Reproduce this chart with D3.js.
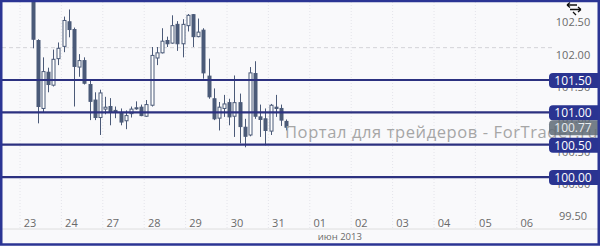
<!DOCTYPE html>
<html>
<head>
<meta charset="utf-8">
<script src="https://cdn.jsdelivr.net/npm/d3@7"></script>
<style>
  html, body { margin: 0; padding: 0; background: #f9f9fb; }
  svg { display: block; }
  text { font-family: "Open Sans", "DejaVu Sans", sans-serif; }
</style>
</head>
<body>
<div id="chart"></div>
<script>
'use strict';

// day labels on the x axis (8 three-hour bars per day)
var days = ['23', '24', '27', '28', '29', '30', '31', '01', '02', '03', '04', '05', '06'];
var monthLabel = 'июн 2013';

var opens  = [102.85, 102.11, 101.06, 101.62, 101.42, 101.83, 102.02, 102.40, 102.28, 101.70,
              101.80, 101.43, 101.19, 100.92, 101.05, 101.09, 101.03, 100.99, 100.87, 100.98,
              101.07, 101.08, 100.94, 101.11, 101.84, 101.92, 102.11, 102.07, 102.36, 102.06,
              102.34, 102.51, 102.17, 102.27, 101.56, 101.21, 100.91, 101.06, 101.15, 100.94,
              101.15, 100.77, 100.65, 101.60, 100.93, 100.90, 100.71, 101.08, 101.06, 100.86];
var highs  = [102.95, 102.13, 101.85, 101.69, 101.97, 102.08, 102.48, 102.59, 102.31, 101.90,
              101.85, 101.49, 101.31, 101.35, 101.24, 101.22, 101.09, 101.06, 101.03, 101.09,
              101.17, 101.12, 101.19, 102.01, 102.01, 102.30, 102.17, 102.50, 102.41, 102.44,
              102.52, 102.52, 102.45, 102.30, 101.83, 101.37, 101.16, 101.27, 101.21, 101.57,
              101.29, 100.90, 101.70, 101.79, 101.12, 101.06, 101.13, 101.27, 101.12, 100.89];
var lows   = [101.99, 100.83, 101.00, 101.31, 101.40, 101.73, 101.93, 102.16, 101.09, 101.55,
              101.43, 100.88, 100.88, 100.65, 100.97, 100.80, 100.91, 100.80, 100.74, 100.92,
              101.04, 100.94, 100.93, 101.09, 101.73, 101.91, 102.01, 102.06, 101.95, 101.85,
              102.25, 102.01, 102.16, 101.52, 101.21, 100.88, 100.72, 100.93, 100.80, 100.62,
              100.52, 100.46, 100.63, 100.90, 100.62, 100.49, 100.65, 100.93, 100.79, 100.72];
var closes = [102.13, 101.09, 101.63, 101.43, 101.82, 101.99, 102.42, 102.28, 101.71, 101.80,
              101.45, 101.17, 100.92, 101.30, 101.08, 101.00, 101.00, 100.85, 100.95, 101.05,
              101.06, 100.95, 101.12, 101.88, 101.92, 102.10, 102.06, 102.34, 102.06, 102.36,
              102.50, 102.17, 102.24, 101.61, 101.24, 100.90, 101.08, 101.13, 100.93, 101.15,
              100.78, 100.63, 101.61, 100.94, 100.89, 100.72, 101.11, 101.06, 100.88, 100.77];

var yTicks = [99.5, 100, 100.5, 101, 101.5, 102, 102.5];
var levels = [101.5, 101, 100.5, 100];
var gridLevels = [102];
var lastPrice = 100.77;
var watermark = 'Портал для трейдеров - ForTrader.ru';

var config = {
  width: 600,
  height: 246,
  barsPerDay: 8,
  plotRight: 552,
  axisY: 229,
  colors: {
    frame: '#2b3594',
    level: '#2c3180',
    badge: '#2a3491',
    candle: '#4b5a78',
    text: '#6a6a6a'
  }
};

var candles = opens.map(function(o, i) {
  return { i: i, open: o, high: highs[i], low: lows[i], close: closes[i] };
});

var svg = d3.select('#chart').append('svg')
  .attr('width', config.width)
  .attr('height', config.height);

// scales: x in bar slots, y in price
var xScale = d3.scaleLinear()
  .domain([0, config.barsPerDay])
  .range([30, 71.4]);
var yScale = d3.scaleLinear()
  .domain([99.5, 102.5])
  .range([209.4, 15.3]);

svg.append('rect')
  .attr('width', config.width)
  .attr('height', config.height)
  .attr('fill', '#f9f9fb');

svg.append('clipPath').attr('id', 'plot-clip')
  .append('rect')
  .attr('x', 2).attr('y', 2)
  .attr('width', config.plotRight - 2)
  .attr('height', config.axisY - 2);

// faint vertical dotted grid
svg.append('g').selectAll('line')
  .data(days)
  .enter().append('line')
  .attr('x1', function(d, i) { return xScale(i * config.barsPerDay) - 10; })
  .attr('x2', function(d, i) { return xScale(i * config.barsPerDay) - 10; })
  .attr('y1', 2)
  .attr('y2', config.axisY)
  .attr('stroke', '#e4e4ea')
  .attr('stroke-dasharray', '1,2');

// dashed horizontal grid
svg.append('g').selectAll('line')
  .data(gridLevels)
  .enter().append('line')
  .attr('x1', 2)
  .attr('x2', config.plotRight)
  .attr('y1', function(d) { return yScale(d); })
  .attr('y2', function(d) { return yScale(d); })
  .attr('stroke', '#d4d4d8')
  .attr('stroke-dasharray', '4,3');

// bottom axis line
svg.append('line')
  .attr('x1', 2).attr('x2', 598)
  .attr('y1', config.axisY).attr('y2', config.axisY)
  .attr('stroke', '#dedede');

// day labels
var xAxis = svg.append('g').attr('class', 'x axis');
xAxis.selectAll('text')
  .data(days)
  .enter().append('text')
  .text(function(d) { return d; })
  .attr('x', function(d, i) { return xScale(i * config.barsPerDay); })
  .attr('y', 227)
  .attr('text-anchor', 'middle')
  .attr('font-size', 11)
  .attr('fill', config.colors.text);

xAxis.append('text')
  .text(monthLabel)
  .attr('x', xScale(days.indexOf('01') * config.barsPerDay) - 2)
  .attr('y', 240)
  .attr('font-size', 9.5)
  .attr('fill', config.colors.text);

// y tick labels (sit just below their level)
svg.append('g').selectAll('text')
  .data(yTicks)
  .enter().append('text')
  .text(function(d) { return d.toFixed(2); })
  .attr('x', 573)
  .attr('y', function(d) { return yScale(d) + 11; })
  .attr('text-anchor', 'middle')
  .attr('font-size', 11)
  .attr('fill', config.colors.text);

// CANDLES
var plot = svg.append('g').attr('clip-path', 'url(#plot-clip)');
var bar = plot.selectAll('g.candle')
  .data(candles)
  .enter().append('g')
  .attr('class', 'candle');

bar.append('line')
  .attr('x1', function(d) { return Math.round(xScale(d.i + 0.5)) + 0.5; })
  .attr('x2', function(d) { return Math.round(xScale(d.i + 0.5)) + 0.5; })
  .attr('y1', function(d) { return yScale(d.high); })
  .attr('y2', function(d) { return yScale(d.low); })
  .attr('stroke', config.colors.candle)
  .attr('stroke-width', 1);

bar.append('rect')
  .attr('x', function(d) { return Math.round(xScale(d.i + 0.5)) - 1; })
  .attr('y', function(d) { return yScale(Math.max(d.open, d.close)); })
  .attr('width', 3)
  .attr('height', function(d) {
    return Math.max(1, yScale(Math.min(d.open, d.close)) - yScale(Math.max(d.open, d.close)));
  })
  .attr('fill', function(d) { return d.close >= d.open ? '#ffffff' : config.colors.candle; })
  .attr('stroke', config.colors.candle)
  .attr('stroke-width', 1);

// horizontal levels
svg.append('g').selectAll('line')
  .data(levels)
  .enter().append('line')
  .attr('x1', 2)
  .attr('x2', 560)
  .attr('y1', function(d) { return yScale(d); })
  .attr('y2', function(d) { return yScale(d); })
  .attr('stroke', config.colors.level)
  .attr('stroke-width', 2.2);

// watermark
svg.append('text')
  .text(watermark)
  .attr('x', 285)
  .attr('y', 138)
  .attr('font-size', 16.5)
  .attr('letter-spacing', 0.6)
  .attr('fill', '#a6a6a6');

// level badges
var badges = svg.append('g').selectAll('g')
  .data(levels.map(function(v) { return { value: v, last: false }; })
    .concat([{ value: lastPrice, last: true }]))
  .enter().append('g');

badges.append('rect')
  .attr('x', 549)
  .attr('y', function(d) { return yScale(d.value) - 7; })
  .attr('width', 56)
  .attr('height', 15)
  .attr('rx', 4)
  .attr('fill', function(d) { return d.last ? '#5e6a74' : config.colors.badge; })
  .attr('fill-opacity', function(d) { return d.last ? 0.85 : 1; });

badges.append('text')
  .text(function(d) { return d.value.toFixed(2); })
  .attr('x', 573)
  .attr('y', function(d) { return yScale(d.value) + 5; })
  .attr('text-anchor', 'middle')
  .attr('font-size', 12)
  .attr('fill', function(d) { return d.last ? '#e8ecef' : '#ffffff'; });

// little zoom icon in the corner
var icon = svg.append('g').attr('transform', 'translate(566,2)');
icon.append('path')
  .attr('d', 'M1,3 L11,3 M1,3 L4,0.5 M1,3 L4,5.5 M4,7.5 L15,7.5 M15,7.5 L12,5 M15,7.5 L12,10 M7,10 L10,13')
  .attr('fill', 'none')
  .attr('stroke', '#111')
  .attr('stroke-width', 1.3);

// frame
svg.append('rect')
  .attr('x', 1.25).attr('y', 1)
  .attr('width', config.width - 2.5)
  .attr('height', config.height - 2.5)
  .attr('fill', 'none')
  .attr('stroke', config.colors.frame)
  .attr('stroke-width', 2.5);
</script>
</body>
</html>
